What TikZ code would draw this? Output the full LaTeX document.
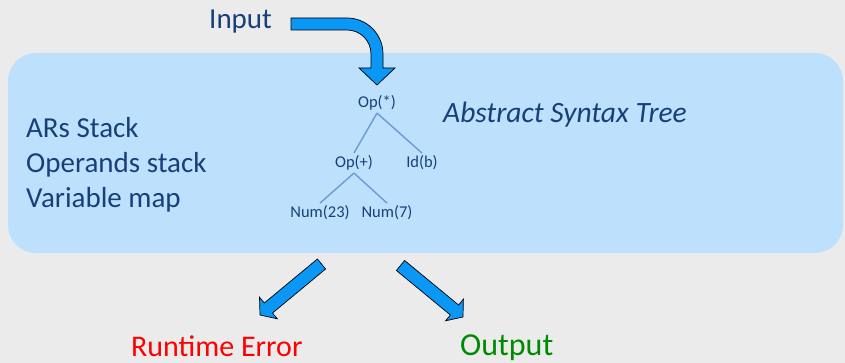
\documentclass[tikz,border=0pt]{standalone}
\usepackage{fontspec}
\setmainfont{Carlito}
\definecolor{bg}{HTML}{EBEBEB}
\definecolor{boxfill}{HTML}{BDE0FD}
\definecolor{navy}{HTML}{17407A}
\definecolor{treeline}{HTML}{6A9BD2}
\definecolor{arrowblue}{HTML}{0A97F5}
\definecolor{errred}{HTML}{FF0000}
\definecolor{okgreen}{HTML}{008A00}
\begin{document}
\begin{tikzpicture}[x=1pt,y=-1pt,
  bigtext/.style={font=\fontsize{29}{34}\selectfont, text=navy, inner sep=0pt},
  treetext/.style={font=\fontsize{16.5}{19}\selectfont, text=navy, inner sep=1.5pt, outer sep=1.2pt},
  treeedge/.style={draw=treeline, line width=1.4pt},
  blockarrow/.style={fill=arrowblue, draw=black, line width=0.7pt, line join=miter},
  outtext/.style={inner sep=0pt}]
\useasboundingbox (0,0) rectangle (845,363);
\fill[bg] (0,0) rectangle (845,363);
% blue region
\fill[boxfill, rounded corners=28pt] (8,53) rectangle (843,253);
% input arrow
\draw[blockarrow] (291,18) -- (347,18) .. controls (366.9,18) and (383,34.1) .. (383,54)
  -- (383,68) -- (395,68) -- (377,85) -- (359,68) -- (371,68) -- (371,54)
  .. controls (371,40.7) and (360.3,30) .. (347,30) -- (291,30) -- cycle;
% output arrows
\draw[blockarrow] (317.4,259.0) -- (264.3,303.0) -- (259.5,297.2) -- (260,315)
  -- (277.3,318.8) -- (272.5,313.0) -- (325.6,269.0) -- cycle;
\draw[blockarrow] (404.6,260.5) -- (458.6,305.0) -- (463.4,299.2) -- (463,317)
  -- (445.6,320.8) -- (450.4,315.0) -- (396.4,270.5) -- cycle;
% texts
\node[bigtext, anchor=base west] (input) at (209,29) {Input};
\node[bigtext, anchor=base west] (ars) at (26,138) {ARs Stack};
\node[bigtext, anchor=base west] (ops) at (26,173) {Operands stack};
\node[bigtext, anchor=base west] (vars) at (26,207.5) {Variable map};
\node[bigtext, anchor=base west, font=\fontsize{29.5}{34}\selectfont\itshape] (ast) at (443,123) {Abstract Syntax Tree};
% tree
\node[treetext] (mul) at (377,103) {Op(*)};
\node[treetext] (plus) at (354,163) {Op(+)};
\node[treetext] (idb) at (422,163) {Id(b)};
\node[treetext] (n23) at (320,213) {Num(23)};
\node[treetext] (n7) at (387,213) {Num(7)};
\draw[treeedge] (mul.south) -- (plus.north);
\draw[treeedge] (mul.south) -- (idb.north);
\draw[treeedge] (plus.south) -- (n23.north);
\draw[treeedge] (plus.south) -- (n7.north);
% outputs
\node[outtext, font=\fontsize{30}{36}\selectfont, text=errred, anchor=base west] (err) at (131,356) {Runtime Error};
\node[outtext, font=\fontsize{32}{38}\selectfont, text=okgreen, anchor=base west] (out) at (460,355) {Output};
\end{tikzpicture}
\end{document}
